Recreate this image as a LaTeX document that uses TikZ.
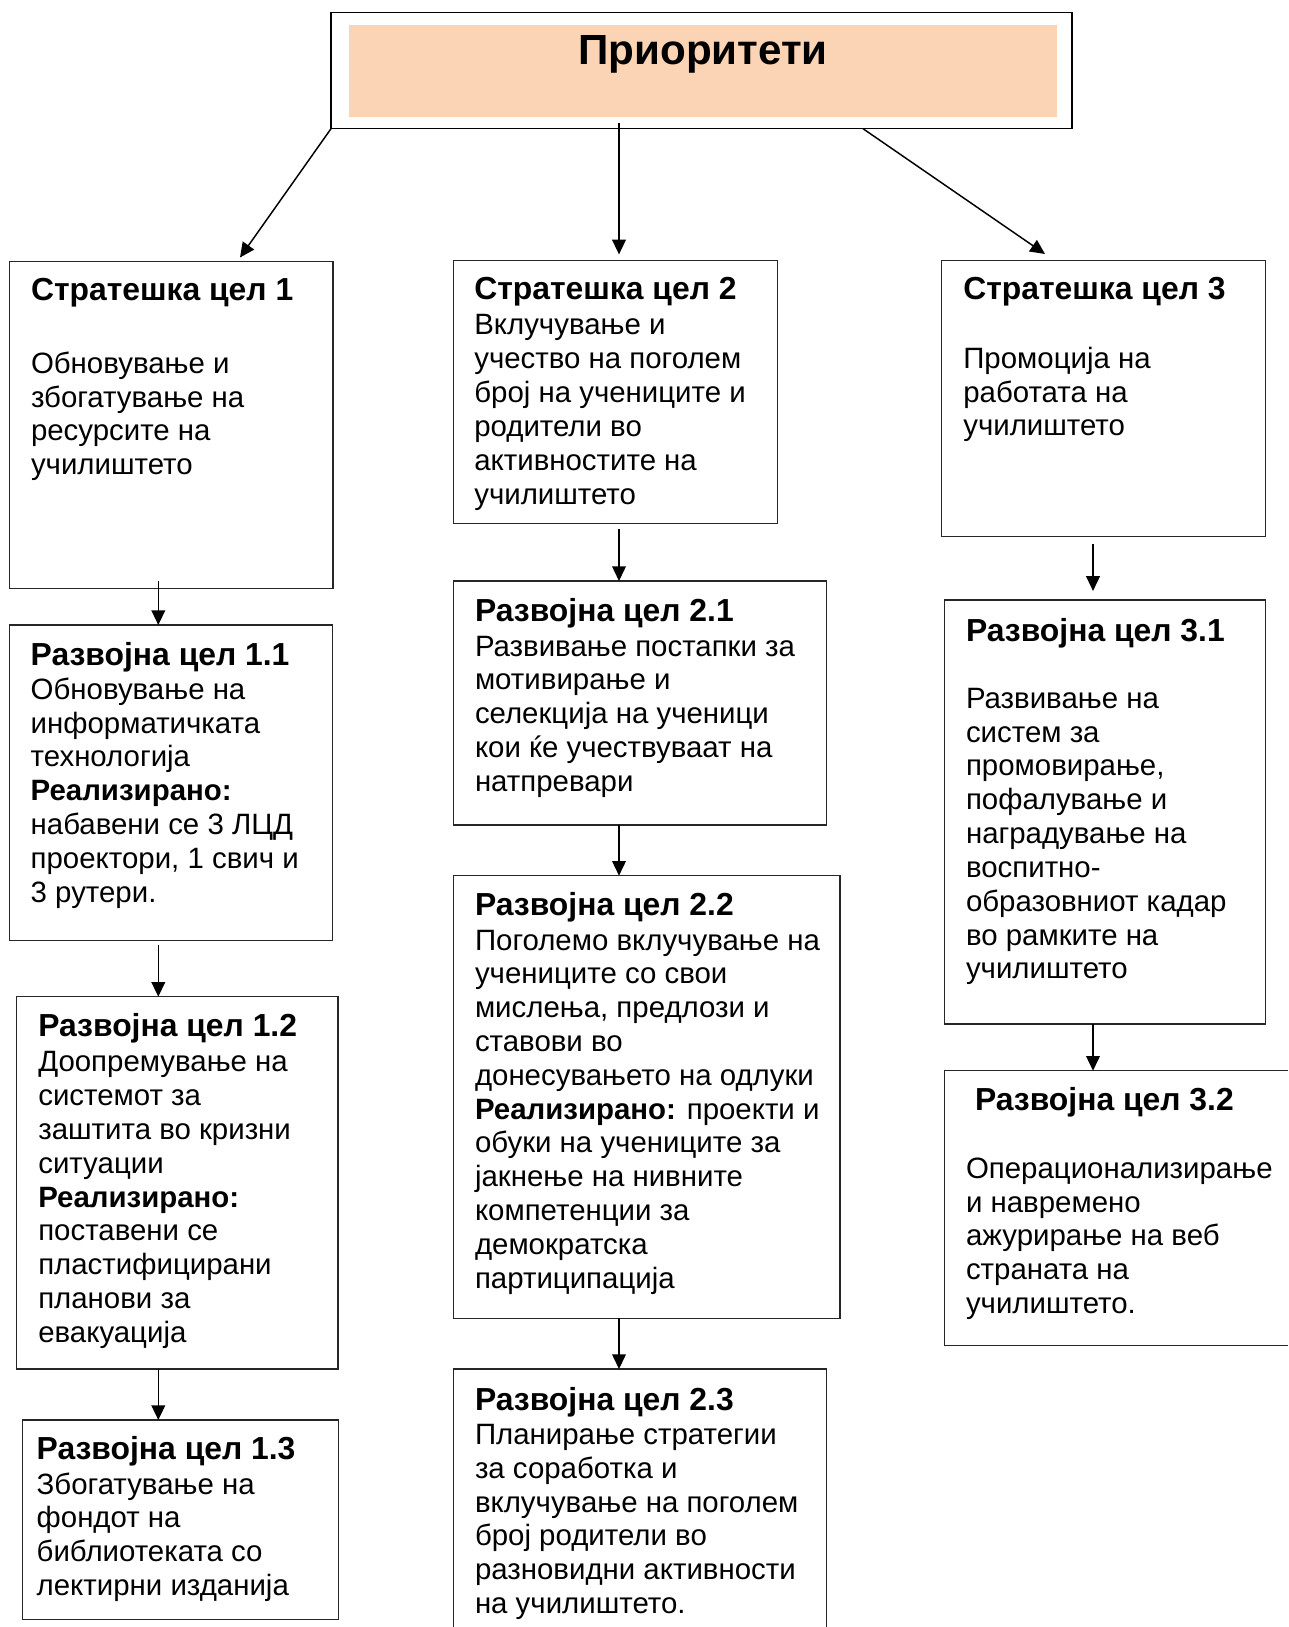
\documentclass[tikz,border=0pt]{standalone}
\usepackage{fontspec}
\setmainfont{Liberation Sans}
\usetikzlibrary{arrows.meta}
\definecolor{peach}{RGB}{250,212,180}
\newcommand\pxu{0.408pt}
\newcommand\mylines[1]{\begin{tabular}[t]{@{}l@{}}#1\end{tabular}}
\begin{document}
\begin{tikzpicture}[x=0.408pt,y=-0.408pt,
  box/.style={draw=black!85, line width=0.45pt, inner sep=0pt, outer sep=0pt, anchor=north west},
  openbox/.style={inner sep=0pt, outer sep=0pt, anchor=north west},
  txt/.style={anchor=base west, inner sep=0pt, outer sep=0pt, font=\fontsize{12}{13.8}\selectfont},
  hd/.style={anchor=base west, inner sep=0pt, outer sep=0pt, font=\fontsize{13}{15}\selectfont\bfseries},
  arr/.style={-{Triangle[length=6pt,width=5.6pt]}, line width=0.6pt, black}]
\useasboundingbox (0,0) rectangle (1288,1627);
\clip (0,0) rectangle (1288,1627);

% top
\node[box, draw=black, line width=0.6pt, minimum width=741*\pxu, minimum height=116.2*\pxu] (top) at (331,12.5) {};
\node[openbox, fill=peach, minimum width=708*\pxu, minimum height=92*\pxu] (topfill) at (349,25) {};
\node[anchor=base, inner sep=0pt, font=\fontsize{17.2}{19}\selectfont\bfseries] (title) at (703,65) {Приоритети};

% column 1
\node[box, minimum width=323.7*\pxu, minimum height=327*\pxu] (s1) at (9.3,261.5) {};
\node[hd] (s1h) at (31,300.7) {Стратешка цел 1};
\node[txt] (s1b) at (31,373.3) {\mylines{Обновување и\\збогатување на\\ресурсите на\\училиштето}};

\node[box, minimum width=323*\pxu, minimum height=315.7*\pxu] (r11) at (9.3,625) {};
\node[hd] (r11h) at (30.7,665) {Развојна цел 1.1};
\node[txt] (r11b) at (30.7,699.3) {\mylines{Обновување на\\информатичката\\технологија\\\textbf{Реализирано:}\\набавени се 3 ЛЦД\\проектори, 1 свич и\\3 рутери.}};

\node[box, minimum width=321.3*\pxu, minimum height=372.3*\pxu] (r12) at (16.7,996.7) {};
\node[hd] (r12h) at (38.3,1036) {Развојна цел 1.2};
\node[txt] (r12b) at (38.3,1071.7) {\mylines{Доопремување на\\системот за\\заштита во кризни\\ситуации\\\textbf{Реализирано:}\\поставени се\\пластифицирани\\планови за\\евакуација}};

\node[box, minimum width=315.6*\pxu, minimum height=199.3*\pxu] (r13) at (22.7,1420) {};
\node[hd] (r13h) at (36.7,1459.3) {Развојна цел 1.3};
\node[txt] (r13b) at (36.7,1494) {\mylines{Збогатување на\\фондот на\\библиотеката со\\лектирни изданија}};

% column 2
\node[box, minimum width=324.2*\pxu, minimum height=263.2*\pxu] (s2) at (453.5,260.5) {};
\node[hd] (s2h) at (474.3,300) {Стратешка цел 2};
\node[txt] (s2b) at (474.3,335) {\mylines{Вклучување и\\учество на поголем\\број на учениците и\\родители во\\активностите на\\училиштето}};

\node[box, minimum width=373.2*\pxu, minimum height=244*\pxu] (r21) at (453.5,581) {};
\node[hd] (r21h) at (475,621.7) {Развојна цел 2.1};
\node[txt] (r21b) at (475,656) {\mylines{Развивање постапки за\\мотивирање и\\селекција на ученици\\кои ќе учествуваат на\\натпревари}};

\node[box, minimum width=386.5*\pxu, minimum height=442.6*\pxu] (r22) at (453.5,875.7) {};
\node[hd] (r22h) at (475,915) {Развојна цел 2.2};
\node[txt] (r22b) at (475,950) {\mylines{Поголемо вклучување на\\учениците со свои\\мислења, предлози и\\ставови во\\донесувањето на одлуки\\\textbf{Реализирано:} проекти и\\обуки на учениците за\\јакнење на нивните\\компетенции за\\демократска\\партиципација}};

\node[openbox, minimum width=373*\pxu, minimum height=258*\pxu] (r23) at (453.5,1369) {};
\draw[black!85, line width=0.45pt] (r23.south west) -- (r23.north west) -- (r23.north east) -- (r23.south east);
\node[hd] (r23h) at (475,1410) {Развојна цел 2.3};
\node[txt] (r23b) at (475,1444.5) {\mylines{Планирање стратегии\\за соработка и\\вклучување на поголем\\број родители во\\разновидни активности\\на училиштето.}};

% column 3
\node[box, minimum width=324.3*\pxu, minimum height=276.2*\pxu] (s3) at (941.4,260.5) {};
\node[hd] (s3h) at (963.3,300) {Стратешка цел 3};
\node[txt] (s3b) at (963.3,368.3) {\mylines{Промоција на\\работата на\\училиштето}};

\node[box, minimum width=321*\pxu, minimum height=424*\pxu] (r31) at (944.3,600) {};
\node[hd] (r31h) at (966,641.7) {Развојна цел 3.1};
\node[txt] (r31b) at (966,708.3) {\mylines{Развивање на\\систем за\\промовирање,\\пофалување и\\наградување на\\воспитно-\\образовниот кадар\\во рамките на\\училиштето}};

\node[openbox, minimum width=343.7*\pxu, minimum height=274.6*\pxu] (r32) at (944.3,1070.7) {};
\draw[black!85, line width=0.45pt] (r32.north east) -- (r32.north west) -- (r32.south west) -- (r32.south east);
\node[hd] (r32h) at (975,1110) {Развојна цел 3.2};
\node[txt] (r32b) at (966,1178.3) {\mylines{Операционализирање\\и навремено\\ажурирање на веб\\страната на\\училиштето.}};

% connector columns / free ends
\coordinate (c1) at (158.3,0);
\coordinate (c2) at (619,0);
\coordinate (c3) at (1093,0);
\coordinate (t1) at (240,257.5);
\coordinate (t3s) at (863,0);
\coordinate (t3) at (1045,254);

\draw[arr] (top.south west) -- (t1);
\draw[arr, shorten <=-2.5pt, shorten >=2.5pt] (top.south -| c2) -- (s2.north -| c2);
\draw[arr] (top.south -| t3s) -- (t3);

\draw[arr, shorten <=-3pt] (s1.south -| c1) -- (r11.north -| c1);
\draw[arr, shorten <=1.6pt] (r11.south -| c1) -- (r12.north -| c1);
\draw[arr] (r12.south -| c1) -- (r13.north -| c1);

\draw[arr, shorten <=2.2pt] (s2.south -| c2) -- (r21.north -| c2);
\draw[arr] (r21.south -| c2) -- (r22.north -| c2);
\draw[arr] (r22.south -| c2) -- (r23.north -| c2);

\draw[arr, shorten <=3pt, shorten >=3.7pt] (s3.south -| c3) -- (r31.north -| c3);
\draw[arr] (r31.south -| c3) -- (r32.north -| c3);
\end{tikzpicture}
\end{document}
